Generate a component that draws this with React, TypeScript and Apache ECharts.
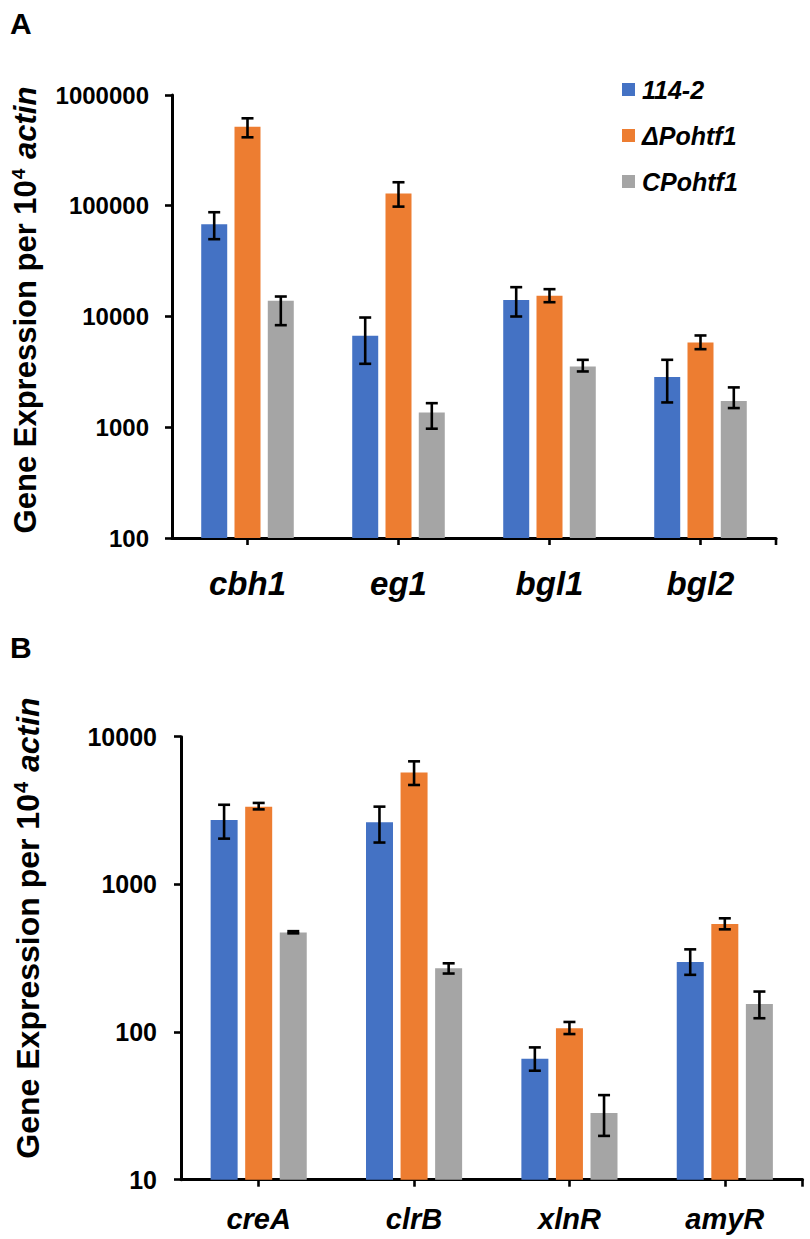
import React, { useEffect, useRef } from "react";
import * as echarts from "echarts";

// ---- Data ----
const catsA = ["cbh1", "eg1", "bgl1", "bgl2"];
const a114 = [68000, 6700, 14100, 2840];
const a114Lo = [49900, 3740, 10000, 1675];
const a114Hi = [87400, 9790, 18400, 4064];
const aDel = [518000, 128800, 15400, 5830];
const aDelLo = [415000, 98200, 13460, 5070];
const aDelHi = [616000, 163000, 17650, 6740];
const aComp = [13900, 1360, 3540, 1730];
const aCompLo = [8350, 970, 3190, 1490];
const aCompHi = [15150, 1650, 4060, 2290];

const catsB = ["creA", "clrB", "xlnR", "amyR"];
const b114 = [2730, 2630, 65.9, 298];
const b114Lo = [2040, 1920, 54.7, 244];
const b114Hi = [3460, 3360, 78.7, 363];
const bDel = [3360, 5730, 106, 539];
const bDelLo = [3220, 4710, 96.9, 496];
const bDelHi = [3560, 6810, 117, 589];
const bComp = [473, 270, 28.3, 155];
const bCompLo = [466, 249, 19.8, 124];
const bCompHi = [482, 292, 37.4, 188];

const seriesNames = ["114-2", "ΔPohtf1", "CPohtf1"];
const colors = ["#4472C4", "#ED7D31", "#A5A5A5"];

const FONT = "Arial, 'Liberation Sans', sans-serif";

function errData(los: number[][], his: number[][]) {
  const out: number[][] = [];
  los.forEach((lo, s) => {
    lo.forEach((v, i) => out.push([i, v, his[s][i], s]));
  });
  return out;
}

function makeErr(gridIdx: number, offset: number, data: number[][]) {
  return {
    type: "custom",
    xAxisIndex: gridIdx,
    yAxisIndex: gridIdx,
    z: 5,
    silent: true,
    encode: { x: 0, y: [1, 2] },
    data,
    renderItem: (params: any, api: any) => {
      const ci = api.value(0);
      const lo = api.coord([ci, api.value(1)]);
      const hi = api.coord([ci, api.value(2)]);
      const x = lo[0] + (api.value(3) - 1) * offset;
      const cap = 6;
      const st = { stroke: "#000", lineWidth: 2.6 };
      return {
        type: "group",
        children: [
          { type: "line", shape: { x1: x, y1: lo[1], x2: x, y2: hi[1] }, style: st },
          { type: "line", shape: { x1: x - cap, y1: lo[1], x2: x + cap, y2: lo[1] }, style: st },
          { type: "line", shape: { x1: x - cap, y1: hi[1], x2: x + cap, y2: hi[1] }, style: st },
        ],
      };
    },
  };
}

function xAxisCfg(gridIndex: number, data: string[], fontSize: number, margin: number) {
  return {
    type: "category",
    gridIndex,
    data,
    axisLine: { show: true, lineStyle: { color: "#000", width: 3 } },
    axisTick: { show: true, alignWithLabel: true, length: 7, lineStyle: { color: "#000", width: 2.6 } },
    axisLabel: {
      color: "#000",
      fontSize,
      fontWeight: "bold",
      fontStyle: "italic",
      fontFamily: FONT,
      margin,
    },
    splitLine: { show: false },
  };
}

function yAxisCfg(gridIndex: number, min: number, max: number, fontSize: number, margin: number) {
  return {
    type: "log",
    logBase: 10,
    gridIndex,
    min,
    max,
    axisLine: { show: true, lineStyle: { color: "#000", width: 3 } },
    axisTick: { show: true, length: 7, lineStyle: { color: "#000", width: 2.6 } },
    axisLabel: {
      color: "#000",
      fontSize,
      fontWeight: "bold",
      fontFamily: FONT,
      margin,
      formatter: (v: number) => String(Math.round(v)),
    },
    splitLine: { show: false },
    minorTick: { show: false },
  };
}

function titleText(x: number, y: number, size: number) {
  return {
    type: "text",
    x,
    y,
    rotation: Math.PI / 2,
    style: {
      text: "{n|Gene Expression per 10}{s|4}{i| actin}",
      align: "center",
      verticalAlign: "middle",
      rich: {
        n: { fontSize: size, fontWeight: "bold", fontFamily: FONT, fill: "#000" },
        s: { fontSize: Math.round(size * 0.62), fontWeight: "bold", fontFamily: FONT, fill: "#000", padding: [0, 1, Math.round(size * 0.45), 1] },
        i: { fontSize: size, fontWeight: "bold", fontStyle: "italic", fontFamily: FONT, fill: "#000" },
      },
    },
  };
}

export default function App() {
  const ref = useRef<HTMLDivElement>(null);
  useEffect(() => {
    if (!ref.current) return;
    const chart = echarts.init(ref.current, undefined, { renderer: "svg" });
    const aVals = [a114, aDel, aComp];
    const bVals = [b114, bDel, bComp];
    const gridA = { left: 172, right: 34, top: 95, height: 443 };
    const gridB = { left: 181, right: 7.5, top: 736.7, height: 443 };
    const option: any = {
      animation: false,
      backgroundColor: "#fff",
      grid: [gridA, gridB],
      legend: {
        data: seriesNames,
        orient: "vertical",
        left: 617,
        top: 72,
        itemWidth: 13,
        itemHeight: 13,
        itemGap: 21,
        icon: "rect",
        textStyle: {
          color: "#000",
          fontSize: 25,
          fontWeight: "bold",
          fontStyle: "italic",
          fontFamily: FONT,
          lineHeight: 25,
          padding: [0, 0, 0, 2],
        },
      },
      xAxis: [xAxisCfg(0, catsA, 33, 29), xAxisCfg(1, catsB, 29, 25)],
      yAxis: [yAxisCfg(0, 100, 1000000, 24, 23), yAxisCfg(1, 10, 10000, 25, 24)],
      series: [
        ...aVals.map((vals, s) => ({
          type: "bar",
          name: seriesNames[s],
          xAxisIndex: 0,
          yAxisIndex: 0,
          data: vals,
          barWidth: 26,
          barGap: "28%",
          itemStyle: { color: colors[s] },
        })),
        ...bVals.map((vals, s) => ({
          type: "bar",
          name: seriesNames[s],
          xAxisIndex: 1,
          yAxisIndex: 1,
          data: vals,
          barWidth: 27,
          barGap: "28%",
          itemStyle: { color: colors[s] },
        })),
        makeErr(0, 33.3, errData([a114Lo, aDelLo, aCompLo], [a114Hi, aDelHi, aCompHi])),
        makeErr(1, 34.6, errData([b114Lo, bDelLo, bCompLo], [b114Hi, bDelHi, bCompHi])),
      ],
      graphic: [
        { type: "text", x: 10, y: 8, style: { text: "A", fontSize: 30, fontWeight: "bold", fontFamily: FONT, fill: "#000" } },
        { type: "text", x: 10, y: 632, style: { text: "B", fontSize: 30, fontWeight: "bold", fontFamily: FONT, fill: "#000" } },
        titleText(25, 310, 31),
        titleText(28, 928, 32),
        { type: "line", shape: { x1: 776, y1: 538, x2: 776, y2: 545 }, style: { stroke: "#000", lineWidth: 2.6 } },
        { type: "line", shape: { x1: 802.5, y1: 1179.7, x2: 802.5, y2: 1186.7 }, style: { stroke: "#000", lineWidth: 2.6 } },
      ],
    };
    chart.setOption(option);
    return () => chart.dispose();
  }, []);
  return (
    <div
      ref={ref}
      style={{ position: "absolute", left: 0, top: 0, width: 810, height: 1239, background: "#fff" }}
    />
  );
}
